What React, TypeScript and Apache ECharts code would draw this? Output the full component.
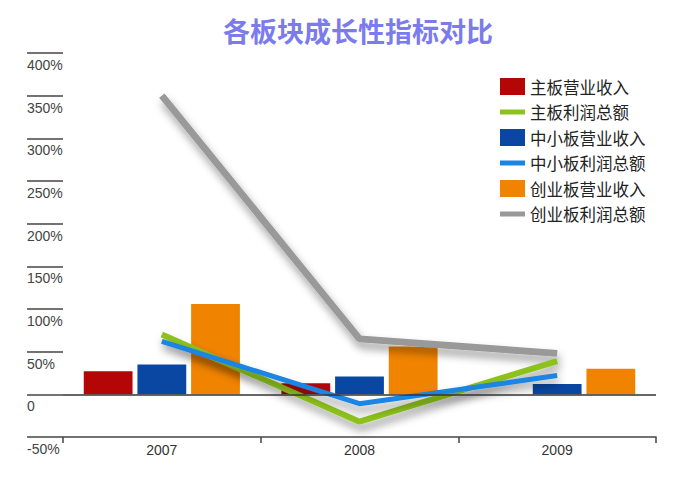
import React, { useEffect, useRef } from "react";
import * as echarts from "echarts";

const years = ["2007", "2008", "2009"];
const mainRevenue = [27, 13, null];
const mainProfit = [70, -32, 39];
const smeRevenue = [35, 21, 12];
const smeProfit = [62, -11, 22];
const gemRevenue = [106, 56, 30];
const gemProfit = [350, 65, 48];

const titleText = "各板块成长性指标对比";
const seriesNames = [
  "主板营业收入",
  "主板利润总额",
  "中小板营业收入",
  "中小板利润总额",
  "创业板营业收入",
  "创业板利润总额",
];

const CJK = '"Noto Sans CJK SC", "Noto Sans", sans-serif';
const LATIN = '"Liberation Sans", "DejaVu Sans", sans-serif';
const LINE_ICON = "path://M0,0M25,17M0,6L25,6L25,11L0,11Z";

export default function App() {
  const ref = useRef<HTMLDivElement>(null);
  useEffect(() => {
    if (!ref.current) return;
    const chart = echarts.init(ref.current, undefined, { renderer: "svg" });
    const lineShadow = {
      shadowColor: "rgba(0,0,0,0.4)",
      shadowBlur: 8,
      shadowOffsetY: 6,
      shadowOffsetX: 2,
    };
    chart.setOption({
      animation: false,
      backgroundColor: "#ffffff",
      title: {
        text: titleText,
        left: 218,
        top: 12,
        textStyle: {
          color: "#7b7bee",
          fontSize: 27,
          fontWeight: "bold",
          fontFamily: CJK,
        },
      },
      legend: {
        orient: "vertical",
        left: 495,
        top: 73,
        itemWidth: 25,
        itemHeight: 17,
        itemGap: 8.5,
        data: seriesNames.map((n, i) => ({ name: n, icon: i % 2 === 0 ? "rect" : LINE_ICON })),
        textStyle: { fontSize: 16.5, color: "#222", fontFamily: CJK },
      },
      grid: { left: 63, right: 33, top: 53, bottom: 63 },
      xAxis: {
        type: "category",
        data: years,
        axisLine: { show: true, onZero: false, lineStyle: { color: "#444", width: 1.5 } },
        axisTick: { show: true, length: 6, inside: false, lineStyle: { color: "#444", width: 1.5 } },
        axisLabel: { margin: 6, fontSize: 14, color: "#333", fontFamily: LATIN },
        splitLine: { show: false },
      },
      yAxis: {
        type: "value",
        min: -50,
        max: 400,
        interval: 50,
        axisLine: { show: false },
        axisTick: { show: true, length: 36, inside: false, lineStyle: { color: "#444", width: 1.5 } },
        splitLine: { show: false },
        axisLabel: {
          margin: 36,
          align: "left",
          verticalAlign: "top",
          padding: [5, 0, 0, 0],
          fontSize: 14,
          color: "#444",
          fontFamily: LATIN,
          formatter: (v: number) => (v === 0 ? "0" : v + "%"),
        },
      },
      series: [
        {
          name: seriesNames[0],
          type: "bar",
          data: mainRevenue,
          barGap: "10%",
          barCategoryGap: "21%",
          itemStyle: { color: "#b40606" },
          markLine: {
            silent: true,
            symbol: "none",
            label: { show: false },
            lineStyle: { color: "#333", type: "solid", width: 1.5 },
            data: [{ yAxis: 0 }],
          },
        },
        {
          name: seriesNames[1],
          type: "line",
          data: mainProfit,
          z: 4,
          symbol: "none",
          itemStyle: { color: "#8dc21f" },
          lineStyle: { color: "#8dc21f", width: 6, ...lineShadow },
        },
        {
          name: seriesNames[2],
          type: "bar",
          data: smeRevenue,
          itemStyle: { color: "#0a47a3" },
        },
        {
          name: seriesNames[3],
          type: "line",
          data: smeProfit,
          z: 4,
          symbol: "none",
          itemStyle: { color: "#1a84e2" },
          lineStyle: { color: "#1a84e2", width: 5, ...lineShadow },
        },
        {
          name: seriesNames[4],
          type: "bar",
          data: gemRevenue,
          itemStyle: { color: "#f08300" },
        },
        {
          name: seriesNames[5],
          type: "line",
          data: gemProfit,
          z: 3,
          symbol: "none",
          itemStyle: { color: "#999999" },
          lineStyle: { color: "#999999", width: 7, ...lineShadow },
        },
      ],
    });
    return () => chart.dispose();
  }, []);
  return <div ref={ref} style={{ width: 689, height: 500, margin: -8 }} />;
}
